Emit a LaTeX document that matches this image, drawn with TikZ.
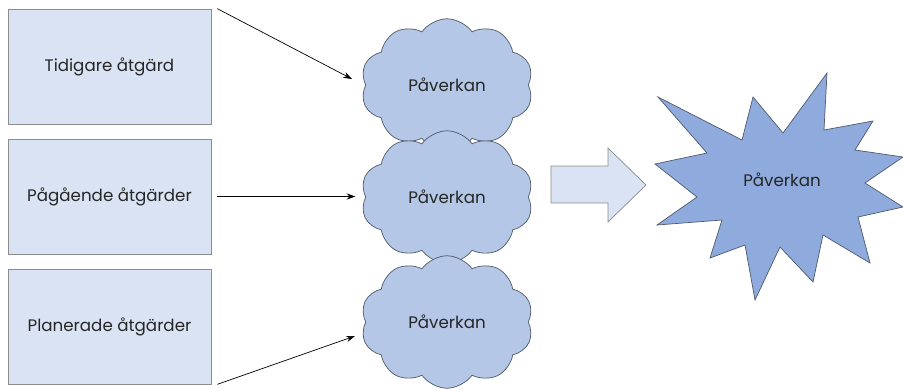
\documentclass[tikz,border=0pt]{standalone}
\usepackage{fontspec}
\setmainfont{Poppins}
\usepackage{tikz}
\usetikzlibrary{shapes.symbols}
\usetikzlibrary{arrows.meta}

\definecolor{boxfill}{HTML}{DAE3F3}
\definecolor{cloudfill}{HTML}{B4C7E7}
\definecolor{burstfill}{HTML}{8FAADC}
\definecolor{boxline}{HTML}{8C8C8C}
\definecolor{cloudline}{HTML}{4F5A6A}
\definecolor{txt}{HTML}{262626}

\tikzset{
  every node/.style={text=txt},
  action/.style={draw=boxline, fill=boxfill, minimum width=4.06cm, minimum height=2.3cm,
    font=\fontsize{9.5}{11}\selectfont},
  effect/.style={cloud, cloud puffs=10, cloud puff arc=110, aspect=1.3, draw=cloudline,
    fill=cloudfill, minimum width=3.45cm, minimum height=2.65cm, font=\fontsize{9.5}{11}\selectfont},
  link/.style={-{Stealth[length=5pt,width=3.5pt]}, black, thin},
  burst/.style={draw=cloudline, fill=burstfill, line join=miter},
}

\begin{document}
\begin{tikzpicture}[x=0.02cm, y=-0.02cm]
    \useasboundingbox (0,0) rectangle (903,390);

    \node[action] (t1) at (109.5,66.5) {Tidigare åtgärd};
    \node[action] (t2) at (109.5,196.5) {Pågående åtgärder};
    \node[action] (t3) at (109.5,326.5) {Planerade åtgärder};

    \node[effect] (c1) at (447,85) {Påverkan};
    \node[effect] (c2) at (447,197) {Påverkan};
    \node[effect] (c3) at (447,322) {Påverkan};

    % Edges
    \coordinate (e1) at (352,79);
    \coordinate (e3) at (355,336);
    \draw[link] ([xshift=0.12cm]t1.north east) -- (e1);
    \draw[link] ([xshift=0.12cm]t2.east) -- ([xshift=-0.2cm]t2.east -| c2.west);
    \draw[link] ([xshift=0.12cm]t3.south east) -- (e3);

    % Block arrow
    \coordinate (ba) at (551,185);
    \draw[draw=boxline, fill=boxfill, shift={(ba)}]
      (0,-19) -- (57,-19) -- (57,-37) -- (95,0) -- (57,37) -- (57,18) -- (0,18) -- cycle;

    % Starburst
    \coordinate (sb) at (782,180);
    \draw[burst, shift={(sb)}]
      (-124,-83) -- (-40,-40) -- (-29,-83) -- (1,-47) -- (45,-107) -- (42,-50)
      -- (91,-59) -- (73,-30) -- (121,-23) -- (83,3) -- (121,27) -- (76,37)
      -- (88,83) -- (41,55) -- (31,102) -- (-2,67) -- (-27,120) -- (-37,65)
      -- (-72,78) -- (-60,40) -- (-125,45) -- (-85,17) -- (-127,-16) -- (-75,-27)
      -- cycle;
    \node[font=\fontsize{9.5}{11}\selectfont] (sbt) at (sb) {Påverkan};
\end{tikzpicture}
\end{document}
